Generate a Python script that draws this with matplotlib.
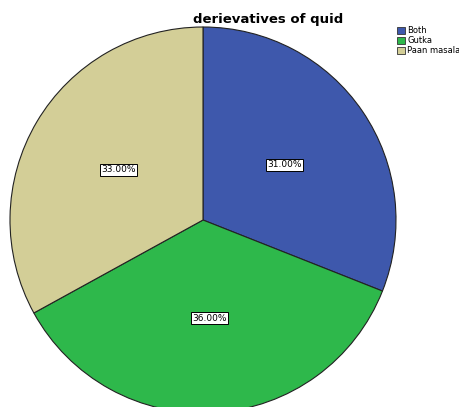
import numpy as np
import matplotlib.pyplot as plt
from matplotlib.patches import Patch

# data
categories = ['Both', 'Gutka', 'Paan masala']
percents = [31.0, 36.0, 33.0]
colors = ['#3e58ac', '#2eb84b', '#d3ce97']

fig = plt.figure(figsize=(4.6, 4.07), dpi=100)
ax = fig.add_axes([0, 0, 1, 1])

cx, cy, r = 203, 187, 193
wedges, texts = ax.pie(percents, colors=colors, startangle=90, counterclock=False,
                       center=(cx, cy), radius=r, labels=None,
                       wedgeprops=dict(edgecolor='#222222', linewidth=0.8))

# percentage boxes inside slices, placed along each wedge's middle angle
for w, p in zip(wedges, percents):
    ang = np.deg2rad((w.theta1 + w.theta2) / 2)
    x = cx + 0.51 * r * np.cos(ang)
    y = cy + 0.51 * r * np.sin(ang)
    ax.text(x, y, '%.2f%%' % p, ha='center', va='center', fontsize=6.5,
            bbox=dict(boxstyle='square,pad=0.15', facecolor='white', edgecolor='black', linewidth=0.7))

ax.set_xlim(0, 460)
ax.set_ylim(0, 407)
ax.set_aspect('equal')
ax.axis('off')

ax.text(268, 388, 'derievatives of quid', ha='center', va='center', fontsize=9.5, fontweight='bold')

handles = [Patch(facecolor=c, edgecolor='#333333', linewidth=0.6) for c in colors]
fig.legend(handles, categories, loc='upper left', bbox_to_anchor=(0.862, 0.935), frameon=False,
           fontsize=6, handlelength=1.0, handleheight=1.0, handletextpad=0.3,
           labelspacing=0.1, borderaxespad=0, borderpad=0)

fig.savefig('out.png', dpi=100)
